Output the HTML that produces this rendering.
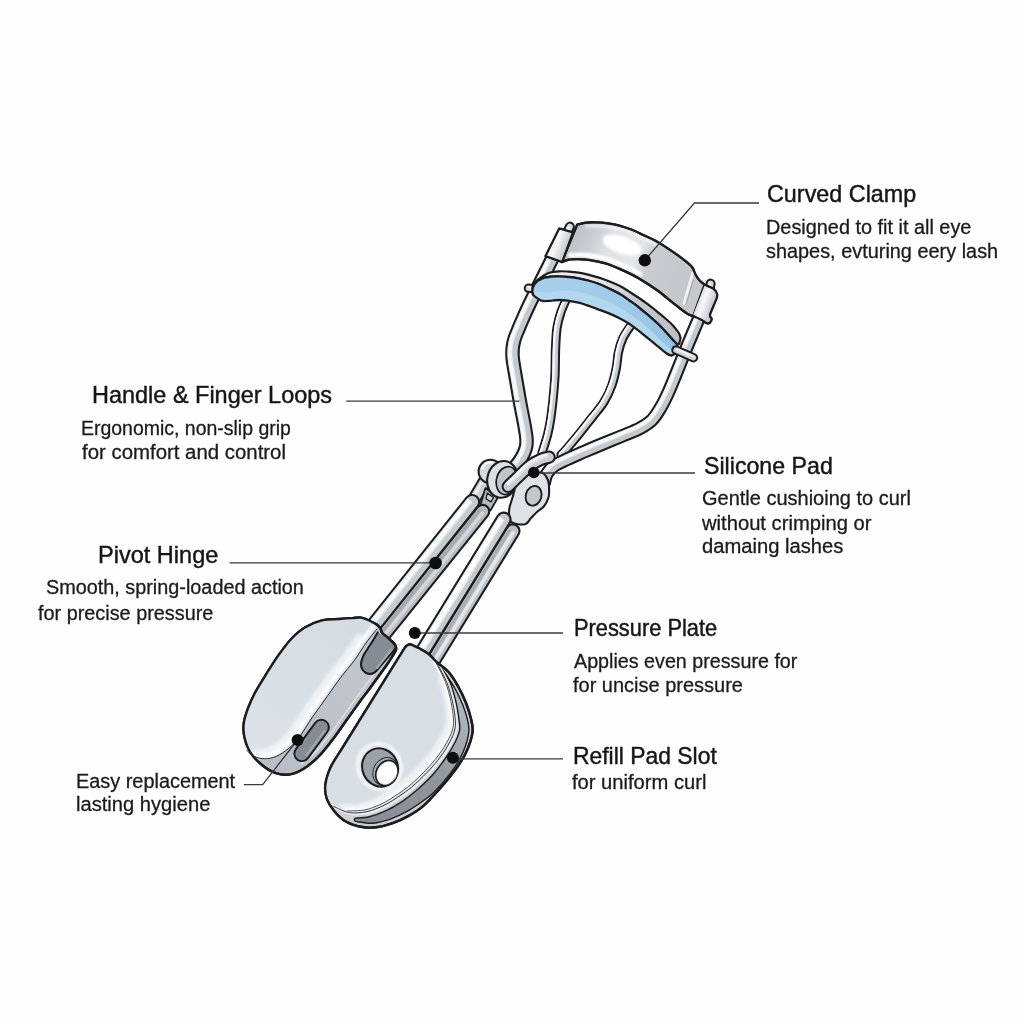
<!DOCTYPE html>
<html><head><meta charset="utf-8"><title>Eyelash Curler Diagram</title>
<style>
html,body{margin:0;padding:0;}
body{width:1024px;height:1024px;background:#fefefe;position:relative;overflow:hidden;font-family:"Liberation Sans",sans-serif;color:#1c1c1c;}
svg{position:absolute;left:0;top:0;}
span{position:absolute;white-space:nowrap;transform-origin:0 0;line-height:normal;}
.h{font-size:24.5px;-webkit-text-stroke:0.45px #161616;color:#161616;}
.b{font-size:20px;color:#1b1b1b;-webkit-text-stroke:0.3px #1b1b1b;}
</style></head><body>
<svg width="1024" height="1024" viewBox="0 0 1024 1024">
<defs>
<linearGradient id="gBand" gradientUnits="userSpaceOnUse" x1="575" y1="235" x2="700" y2="295">
 <stop offset="0" stop-color="#bcc2c9"/><stop offset="0.12" stop-color="#c9ced4"/><stop offset="0.24" stop-color="#dde0e4"/><stop offset="0.47" stop-color="#e4e7e9"/><stop offset="0.57" stop-color="#c9cdd2"/><stop offset="1" stop-color="#c1c5ca"/>
</linearGradient>
<linearGradient id="gFrame" gradientUnits="userSpaceOnUse" x1="535" y1="280" x2="680" y2="335">
 <stop offset="0" stop-color="#f0f2f3"/><stop offset="0.4" stop-color="#e4e7e9"/><stop offset="0.65" stop-color="#c6cbd0"/><stop offset="1" stop-color="#b9bfc5"/>
</linearGradient>
<linearGradient id="gPad" gradientUnits="userSpaceOnUse" x1="540" y1="285" x2="675" y2="350">
 <stop offset="0" stop-color="#a6cfea"/><stop offset="0.5" stop-color="#a0cbe8"/><stop offset="1" stop-color="#94c2e2"/>
</linearGradient>
<linearGradient id="gSlotR" gradientUnits="userSpaceOnUse" x1="365" y1="820" x2="462" y2="690">
 <stop offset="0" stop-color="#878d94"/><stop offset="0.45" stop-color="#8f959c"/><stop offset="0.75" stop-color="#a5abb2"/><stop offset="1" stop-color="#b4bac0"/>
</linearGradient>
<linearGradient id="gLPtop" gradientUnits="userSpaceOnUse" x1="370" y1="640" x2="260" y2="760">
 <stop offset="0" stop-color="#d4dce2"/><stop offset="1" stop-color="#dce2e7"/>
</linearGradient>
<linearGradient id="gLPside" gradientUnits="userSpaceOnUse" x1="380" y1="640" x2="280" y2="780">
 <stop offset="0" stop-color="#c2c8ce"/><stop offset="1" stop-color="#b8bec5"/>
</linearGradient>
<filter id="blur2" x="-20%" y="-20%" width="140%" height="140%"><feGaussianBlur stdDeviation="2"/></filter>
<filter id="blur1" x="-20%" y="-20%" width="140%" height="140%"><feGaussianBlur stdDeviation="1"/></filter>
<filter id="blur15" x="-20%" y="-20%" width="140%" height="140%"><feGaussianBlur stdDeviation="1.5"/></filter>
</defs>
<path d="M566.5,299C565.6,301.2 562.6,307.2 561,312C559.4,316.8 557.9,321.7 557,328C556.1,334.3 555.8,342.2 555.5,350C555.2,357.8 555.4,366.7 555,375C554.6,383.3 553.8,392.5 553,400C552.2,407.5 551.4,414.2 550.5,420C549.6,425.8 548.9,429.5 547.5,435C546.1,440.5 542.9,450 542,453" fill="none" stroke="#1d1d1f" stroke-width="9.3" stroke-linecap="round" stroke-linejoin="round"/>
<path d="M566.5,299C565.6,301.2 562.6,307.2 561,312C559.4,316.8 557.9,321.7 557,328C556.1,334.3 555.8,342.2 555.5,350C555.2,357.8 555.4,366.7 555,375C554.6,383.3 553.8,392.5 553,400C552.2,407.5 551.4,414.2 550.5,420C549.6,425.8 548.9,429.5 547.5,435C546.1,440.5 542.9,450 542,453" fill="none" stroke="#c6cbd0" stroke-width="5.3" stroke-linecap="round" stroke-linejoin="round"/>
<path d="M566.5,299C565.6,301.2 562.6,307.2 561,312C559.4,316.8 557.9,321.7 557,328C556.1,334.3 555.8,342.2 555.5,350C555.2,357.8 555.4,366.7 555,375C554.6,383.3 553.8,392.5 553,400C552.2,407.5 551.4,414.2 550.5,420C549.6,425.8 548.9,429.5 547.5,435C546.1,440.5 542.9,450 542,453" fill="none" stroke="#e8eaec" stroke-width="2.7" stroke-linecap="butt" stroke-linejoin="round" transform="translate(-1.5,-0.2)"/>
<path d="M566.5,299C565.6,301.2 562.6,307.2 561,312C559.4,316.8 557.9,321.7 557,328C556.1,334.3 555.8,342.2 555.5,350C555.2,357.8 555.4,366.7 555,375C554.6,383.3 553.8,392.5 553,400C552.2,407.5 551.4,414.2 550.5,420C549.6,425.8 548.9,429.5 547.5,435C546.1,440.5 542.9,450 542,453" fill="none" stroke="#f7f8f9" stroke-width="1.6" stroke-linecap="butt" stroke-linejoin="round" transform="translate(-1.8,-0.3)"/>
<path d="M630.5,326C629.2,328 625,333.7 623,338C621,342.3 619.6,347 618.5,352C617.4,357 617.4,362.5 616.3,368C615.2,373.5 614,379.3 612,385C610,390.7 607.2,396.7 604,402C600.8,407.3 596.6,411.8 592.5,417C588.4,422.2 583.8,428.2 579.5,433.5C575.2,438.8 570.1,444.9 567,448.5C563.9,452.1 562,453.9 561,455" fill="none" stroke="#1d1d1f" stroke-width="9.3" stroke-linecap="round" stroke-linejoin="round"/>
<path d="M630.5,326C629.2,328 625,333.7 623,338C621,342.3 619.6,347 618.5,352C617.4,357 617.4,362.5 616.3,368C615.2,373.5 614,379.3 612,385C610,390.7 607.2,396.7 604,402C600.8,407.3 596.6,411.8 592.5,417C588.4,422.2 583.8,428.2 579.5,433.5C575.2,438.8 570.1,444.9 567,448.5C563.9,452.1 562,453.9 561,455" fill="none" stroke="#c6cbd0" stroke-width="5.3" stroke-linecap="round" stroke-linejoin="round"/>
<path d="M630.5,326C629.2,328 625,333.7 623,338C621,342.3 619.6,347 618.5,352C617.4,357 617.4,362.5 616.3,368C615.2,373.5 614,379.3 612,385C610,390.7 607.2,396.7 604,402C600.8,407.3 596.6,411.8 592.5,417C588.4,422.2 583.8,428.2 579.5,433.5C575.2,438.8 570.1,444.9 567,448.5C563.9,452.1 562,453.9 561,455" fill="none" stroke="#e8eaec" stroke-width="2.7" stroke-linecap="butt" stroke-linejoin="round" transform="translate(-1.5,-0.8)"/>
<path d="M630.5,326C629.2,328 625,333.7 623,338C621,342.3 619.6,347 618.5,352C617.4,357 617.4,362.5 616.3,368C615.2,373.5 614,379.3 612,385C610,390.7 607.2,396.7 604,402C600.8,407.3 596.6,411.8 592.5,417C588.4,422.2 583.8,428.2 579.5,433.5C575.2,438.8 570.1,444.9 567,448.5C563.9,452.1 562,453.9 561,455" fill="none" stroke="#f7f8f9" stroke-width="1.6" stroke-linecap="butt" stroke-linejoin="round" transform="translate(-1.8,-0.9)"/>
<path d="M553,257C551.4,260.2 547.1,268.8 543.5,276C539.9,283.2 534.7,293.5 531.5,300C528.3,306.5 526.5,310.5 524.5,315C522.5,319.5 520.8,323.3 519.3,327C517.8,330.7 516.2,334.1 515.2,337C514.2,339.9 513.7,342 513.2,344.5C512.8,347 512.5,349.4 512.5,352C512.5,354.6 512.3,355.3 512.9,360C513.5,364.7 515,372.8 516.2,380C517.4,387.2 518.8,395.3 520.2,403C521.6,410.7 523.6,420.2 524.6,426C525.6,431.8 526.1,434.7 526.4,438C526.7,441.3 526.6,443.5 526.2,446C525.8,448.5 525.1,450.5 524,453C522.9,455.5 520.9,458.8 519.5,461C518.1,463.2 516.2,465.2 515.5,466" fill="none" stroke="#1d1d1f" stroke-width="14.5" stroke-linecap="round" stroke-linejoin="round"/>
<path d="M553,257C551.4,260.2 547.1,268.8 543.5,276C539.9,283.2 534.7,293.5 531.5,300C528.3,306.5 526.5,310.5 524.5,315C522.5,319.5 520.8,323.3 519.3,327C517.8,330.7 516.2,334.1 515.2,337C514.2,339.9 513.7,342 513.2,344.5C512.8,347 512.5,349.4 512.5,352C512.5,354.6 512.3,355.3 512.9,360C513.5,364.7 515,372.8 516.2,380C517.4,387.2 518.8,395.3 520.2,403C521.6,410.7 523.6,420.2 524.6,426C525.6,431.8 526.1,434.7 526.4,438C526.7,441.3 526.6,443.5 526.2,446C525.8,448.5 525.1,450.5 524,453C522.9,455.5 520.9,458.8 519.5,461C518.1,463.2 516.2,465.2 515.5,466" fill="none" stroke="#c4c9ce" stroke-width="10.3" stroke-linecap="round" stroke-linejoin="round"/>
<path d="M553,257C551.4,260.2 547.1,268.8 543.5,276C539.9,283.2 534.7,293.5 531.5,300C528.3,306.5 526.5,310.5 524.5,315C522.5,319.5 520.8,323.3 519.3,327C517.8,330.7 516.2,334.1 515.2,337C514.2,339.9 513.7,342 513.2,344.5C512.8,347 512.5,349.4 512.5,352C512.5,354.6 512.3,355.3 512.9,360C513.5,364.7 515,372.8 516.2,380C517.4,387.2 518.8,395.3 520.2,403C521.6,410.7 523.6,420.2 524.6,426C525.6,431.8 526.1,434.7 526.4,438C526.7,441.3 526.6,443.5 526.2,446C525.8,448.5 525.1,450.5 524,453C522.9,455.5 520.9,458.8 519.5,461C518.1,463.2 516.2,465.2 515.5,466" fill="none" stroke="#e8eaec" stroke-width="4.9" stroke-linecap="butt" stroke-linejoin="round" transform="translate(-2.5,-0.4)"/>
<path d="M553,257C551.4,260.2 547.1,268.8 543.5,276C539.9,283.2 534.7,293.5 531.5,300C528.3,306.5 526.5,310.5 524.5,315C522.5,319.5 520.8,323.3 519.3,327C517.8,330.7 516.2,334.1 515.2,337C514.2,339.9 513.7,342 513.2,344.5C512.8,347 512.5,349.4 512.5,352C512.5,354.6 512.3,355.3 512.9,360C513.5,364.7 515,372.8 516.2,380C517.4,387.2 518.8,395.3 520.2,403C521.6,410.7 523.6,420.2 524.6,426C525.6,431.8 526.1,434.7 526.4,438C526.7,441.3 526.6,443.5 526.2,446C525.8,448.5 525.1,450.5 524,453C522.9,455.5 520.9,458.8 519.5,461C518.1,463.2 516.2,465.2 515.5,466" fill="none" stroke="#f7f8f9" stroke-width="3.1" stroke-linecap="butt" stroke-linejoin="round" transform="translate(-2.8,-0.5)"/>
<path d="M699,318C697.7,321.2 693.5,331 691,337C688.5,343 686.5,347.8 684,354C681.5,360.2 678.6,367.7 676,374C673.4,380.3 671,386.5 668.5,392C666,397.5 663.8,402.3 661,407C658.2,411.7 655.5,416.4 652,420C648.5,423.6 645,425.6 640,428.3C635,431 628.7,433.2 622,436C615.3,438.8 606.3,442.4 600,445C593.7,447.6 589.5,449.4 584,451.8C578.5,454.2 572,456.9 567,459.3C562,461.7 557.3,463.6 554,466C550.7,468.4 548.7,470.7 547,473.5C545.3,476.3 544.5,481.4 544,483" fill="none" stroke="#1d1d1f" stroke-width="13.8" stroke-linecap="round" stroke-linejoin="round"/>
<path d="M699,318C697.7,321.2 693.5,331 691,337C688.5,343 686.5,347.8 684,354C681.5,360.2 678.6,367.7 676,374C673.4,380.3 671,386.5 668.5,392C666,397.5 663.8,402.3 661,407C658.2,411.7 655.5,416.4 652,420C648.5,423.6 645,425.6 640,428.3C635,431 628.7,433.2 622,436C615.3,438.8 606.3,442.4 600,445C593.7,447.6 589.5,449.4 584,451.8C578.5,454.2 572,456.9 567,459.3C562,461.7 557.3,463.6 554,466C550.7,468.4 548.7,470.7 547,473.5C545.3,476.3 544.5,481.4 544,483" fill="none" stroke="#c4c9ce" stroke-width="9.6" stroke-linecap="round" stroke-linejoin="round"/>
<path d="M699,318C697.7,321.2 693.5,331 691,337C688.5,343 686.5,347.8 684,354C681.5,360.2 678.6,367.7 676,374C673.4,380.3 671,386.5 668.5,392C666,397.5 663.8,402.3 661,407C658.2,411.7 655.5,416.4 652,420C648.5,423.6 645,425.6 640,428.3C635,431 628.7,433.2 622,436C615.3,438.8 606.3,442.4 600,445C593.7,447.6 589.5,449.4 584,451.8C578.5,454.2 572,456.9 567,459.3C562,461.7 557.3,463.6 554,466C550.7,468.4 548.7,470.7 547,473.5C545.3,476.3 544.5,481.4 544,483" fill="none" stroke="#e8eaec" stroke-width="4.6" stroke-linecap="butt" stroke-linejoin="round" transform="translate(-1.6,-1.9)"/>
<path d="M699,318C697.7,321.2 693.5,331 691,337C688.5,343 686.5,347.8 684,354C681.5,360.2 678.6,367.7 676,374C673.4,380.3 671,386.5 668.5,392C666,397.5 663.8,402.3 661,407C658.2,411.7 655.5,416.4 652,420C648.5,423.6 645,425.6 640,428.3C635,431 628.7,433.2 622,436C615.3,438.8 606.3,442.4 600,445C593.7,447.6 589.5,449.4 584,451.8C578.5,454.2 572,456.9 567,459.3C562,461.7 557.3,463.6 554,466C550.7,468.4 548.7,470.7 547,473.5C545.3,476.3 544.5,481.4 544,483" fill="none" stroke="#f7f8f9" stroke-width="2.9" stroke-linecap="butt" stroke-linejoin="round" transform="translate(-1.8,-2.1)"/>
<path d="M535,288.8L528.3,288.2" fill="none" stroke="#1d1d1f" stroke-width="9.2" stroke-linecap="round" stroke-linejoin="round"/>
<path d="M535,288.8L528.3,288.2" fill="none" stroke="#d9dde0" stroke-width="5.2" stroke-linecap="round" stroke-linejoin="round"/>
<path d="M535,288.8L528.3,288.2" fill="none" stroke="#f7f8f9" stroke-width="2.1" stroke-linecap="butt" stroke-linejoin="round" transform="translate(0,-0.9)"/>
<path d="M533.2,284.5C533.8,283.9 535,282.2 536.5,280.8C538,279.4 540.4,277.8 542.5,276.4C544.6,275 546.5,273.5 549.3,272.7C552,271.9 555.7,271.5 559,271.3C562.3,271.1 565.7,271.4 569,271.6C572.3,271.8 575.4,272.1 578.6,272.6C581.8,273.1 584.8,273.8 588,274.6C591.2,275.4 594.6,276.3 598.1,277.4C601.6,278.5 605.4,279.8 609,281.2C612.6,282.6 616.2,284.1 619.5,285.8C622.8,287.5 625.8,289.5 629,291.5C632.2,293.5 635.7,295.7 639,298C642.3,300.3 645.7,302.7 649,305.2C652.3,307.7 655.8,310.5 658.6,312.8C661.4,315.1 663.6,316.9 666,319C668.4,321.1 671,323.3 673.2,325.7C675.4,328.1 678.1,332 679.1,333.3L680.6,338 L679.2,344 L677,344.2L677,344.2L673.2,340.3L666,332.2L658.6,324.4L649,315.8L639,307.5L629,300.2L619.5,293.8L609,288.6L599,284L588,280.5L578.6,278.3L569,277L559,276.4L551,276.7L544.4,277.7L537.4,281L532.4,288Z" fill="url(#gFrame)" stroke="#1d1d1f" stroke-width="2.2" stroke-linejoin="round" stroke-linecap="round" />
<path d="M537.4,281C538.6,280.4 542.1,278.4 544.4,277.7C546.7,277 548.6,276.9 551,276.7C553.4,276.5 556,276.3 559,276.4C562,276.4 565.7,276.7 569,277C572.3,277.3 575.4,277.7 578.6,278.3C581.8,278.9 584.6,279.6 588,280.5C591.4,281.4 595.5,282.6 599,284C602.5,285.4 605.6,287 609,288.6C612.4,290.2 616.2,291.9 619.5,293.8C622.8,295.7 625.8,297.9 629,300.2C632.2,302.5 635.7,304.9 639,307.5C642.3,310.1 645.7,313 649,315.8C652.3,318.6 655.8,321.7 658.6,324.4C661.4,327.1 663.6,329.5 666,332.2C668.4,334.9 671.4,338.3 673.2,340.3C675,342.3 676.4,343.6 677,344.2L677.6,345 L675.2,353.8 L671.5,355.6C670.6,355.2 669.4,355.3 666.4,353.2C663.4,351.1 658.3,346.5 653.7,342.8C649.1,339.1 643.1,334.2 639,331C634.9,327.8 632.5,325.9 629.3,323.8C626,321.7 622.9,319.9 619.5,318.2C616.1,316.5 612.6,314.9 609,313.4C605.4,311.9 601.6,310.6 598.1,309.3C594.6,308 591.2,306.7 588,305.6C584.8,304.5 581.9,303.5 578.6,302.7C575.3,301.9 571.3,301.1 568,300.6C564.7,300.2 562,300 559,300C556,300 552.9,300.7 550,300.8C547.1,300.9 544.2,301.6 541.5,300.7C538.8,299.8 535.1,296.5 533.8,295.6C531.2,292.8 531.6,285.4 537.4,281Z" fill="url(#gPad)" stroke="#1d1d1f" stroke-width="2.3" stroke-linejoin="round" stroke-linecap="round" />
<path d="M535.5,291.5C537.6,291.6 543.6,292.4 548,292.3C552.4,292.2 556.9,290.7 562,290.6C567.1,290.6 572.6,290.9 578.6,292C584.6,293.1 591.9,295.3 598,297.5C604.1,299.7 609.3,302 615,305C620.7,308 626.5,311.7 632,315.5C637.5,319.3 643.2,323.8 648,328C652.8,332.2 656.9,336.7 661,340.5C665.1,344.3 670.6,349.2 672.5,351L671.6,353.8C670.6,353.6 669.4,353.7 666.4,351.6C663.4,349.5 658.3,344.9 653.7,341.2C649.1,337.5 643.1,332.6 639,329.4C634.9,326.2 632.5,324.3 629.3,322.2C626,320.1 622.9,318.3 619.5,316.6C616.1,314.9 612.6,313.3 609,311.8C605.4,310.3 601.6,309 598.1,307.7C594.6,306.4 591.2,305.1 588,304C584.8,302.9 581.9,301.9 578.6,301.1C575.3,300.3 571.3,299.4 568,299C564.7,298.6 562,298.4 559,298.4C556,298.4 552.9,299.1 550,299.2C547.1,299.3 544.2,300 541.5,299.1C538.8,298.2 535.1,294.9 533.8,294Z" fill="#b7d9f0" stroke="none" stroke-width="0" stroke-linejoin="round" stroke-linecap="round" opacity="0.8"/>
<path d="M676,350L693.5,357.7" fill="none" stroke="#1d1d1f" stroke-width="9.4" stroke-linecap="round" stroke-linejoin="round"/>
<path d="M676,350L693.5,357.7" fill="none" stroke="#d0d4d8" stroke-width="5.4" stroke-linecap="round" stroke-linejoin="round"/>
<path d="M676,350L693.5,357.7" fill="none" stroke="#f7f8f9" stroke-width="2.2" stroke-linecap="butt" stroke-linejoin="round" transform="translate(0.3,-1)"/>
<path d="M577.2,224.6C578.7,224.3 582.9,223 586,222.6C589.1,222.2 592.3,222.2 596,222.3C599.7,222.4 604.1,222.8 608,223.3C611.9,223.9 615.4,224.5 619.4,225.6C623.4,226.7 628.1,228.3 632,229.8C635.9,231.3 639,233 642.8,234.8C646.6,236.6 651.4,238.7 655,240.6C658.6,242.5 660.9,243.9 664.7,246.4C668.5,248.9 674.1,252.6 678,255.4C681.9,258.2 685.5,261.1 688,263.2C690.5,265.3 691.6,266.3 692.8,268.2C694,270.1 694.3,272.4 695.4,274.5C696.5,276.6 698,278.8 699.5,280.5C701,282.2 703.7,283.9 704.5,284.6L693.2,316.2C692.2,315.8 689.5,315.2 687,313.6C684.5,312.1 681.3,309.4 678.1,306.9C674.9,304.4 671.2,301.4 668,298.8C664.8,296.2 661.8,293.6 658.6,291.3C655.4,289 652.3,287 649,284.8C645.7,282.6 642.2,280.3 639,278.4C635.8,276.5 633.3,275.2 630,273.6C626.7,272 622.7,270.2 619,268.6C615.3,267 611.4,265.4 607.9,264.2C604.4,263 601.2,262.3 598,261.6C594.8,260.9 591.7,260.3 588.4,259.9C585.1,259.5 581.3,259.2 578,259.2C574.7,259.2 571.5,259.2 568.8,259.7C566.1,260.2 562.8,261.6 561.6,262Z" fill="url(#gBand)" stroke="#1d1d1f" stroke-width="2.3" stroke-linejoin="round" stroke-linecap="round" />
<path d="M570,255.3C571.5,255.2 575.9,254.8 579.2,254.8C582.5,254.8 586.3,255.1 589.6,255.5C592.9,255.9 596,256.5 599.2,257.2C602.5,257.9 605.6,258.6 609.1,259.8C612.6,261 616.5,262.6 620.2,264.2C623.9,265.8 627.9,267.6 631.2,269.2C634.5,270.8 638.7,273.2 640.2,274" fill="none" stroke="#ffffff" stroke-width="4.4" stroke-linecap="round" filter="url(#blur1)"/>
<path d="M586.5,226.2C588.2,226.1 592.8,225.8 596.5,225.9C600.2,226 604.6,226.4 608.5,226.9C612.4,227.4 615.9,228.1 619.9,229.2C623.9,230.3 628.6,231.9 632.5,233.4C636.4,234.9 639.5,236.6 643.3,238.4C647.1,240.2 653.5,243.2 655.5,244.2" fill="none" stroke="#f4f5f6" stroke-width="2.6" stroke-linecap="round" filter="url(#blur1)" opacity="0.9"/>
<ellipse cx="622" cy="245" rx="20" ry="8.6" transform="rotate(19 622 245)" fill="#ffffff" filter="url(#blur15)"/>
<ellipse cx="622" cy="245" rx="18" ry="7" transform="rotate(19 622 245)" fill="#ffffff" filter="url(#blur1)"/>
<path d="M694,269.5 C695,275 699,280.5 704.5,284.6 L693.2,316.2 L683.6,304.2Z" fill="#c4c9ce" stroke="none" stroke-width="0" stroke-linejoin="round" stroke-linecap="round" />
<path d="M692.6,273 L684,303.4" fill="none" stroke="#eef0f2" stroke-width="2.8" stroke-linecap="round"/>
<path d="M693.4,279.8 L686,304.6" fill="none" stroke="#a3a9af" stroke-width="1.1"/>
<path d="M702.2,290 L696.8,308.5" fill="none" stroke="#8f959b" stroke-width="1.1"/>
<path d="M577.2,224.6C578.7,224.3 582.9,223 586,222.6C589.1,222.2 592.3,222.2 596,222.3C599.7,222.4 604.1,222.8 608,223.3C611.9,223.9 615.4,224.5 619.4,225.6C623.4,226.7 628.1,228.3 632,229.8C635.9,231.3 639,233 642.8,234.8C646.6,236.6 651.4,238.7 655,240.6C658.6,242.5 660.9,243.9 664.7,246.4C668.5,248.9 674.1,252.6 678,255.4C681.9,258.2 685.5,261.1 688,263.2C690.5,265.3 691.6,266.3 692.8,268.2C694,270.1 694.3,272.4 695.4,274.5C696.5,276.6 698,278.8 699.5,280.5C701,282.2 703.7,283.9 704.5,284.6L693.2,316.2C692.2,315.8 689.5,315.2 687,313.6C684.5,312.1 681.3,309.4 678.1,306.9C674.9,304.4 671.2,301.4 668,298.8C664.8,296.2 661.8,293.6 658.6,291.3C655.4,289 652.3,287 649,284.8C645.7,282.6 642.2,280.3 639,278.4C635.8,276.5 633.3,275.2 630,273.6C626.7,272 622.7,270.2 619,268.6C615.3,267 611.4,265.4 607.9,264.2C604.4,263 601.2,262.3 598,261.6C594.8,260.9 591.7,260.3 588.4,259.9C585.1,259.5 581.3,259.2 578,259.2C574.7,259.2 571.5,259.2 568.8,259.7C566.1,260.2 562.8,261.6 561.6,262Z" fill="none" stroke="#1d1d1f" stroke-width="2.3" stroke-linejoin="round" stroke-linecap="round" />
<path d="M567.8,231L569.9,226.6" fill="none" stroke="#1d1d1f" stroke-width="10" stroke-linecap="round" stroke-linejoin="round"/>
<path d="M567.8,231L569.9,226.6" fill="none" stroke="#d9dde0" stroke-width="6" stroke-linecap="round" stroke-linejoin="round"/>
<path d="M567.8,231L569.9,226.6" fill="none" stroke="#f7f8f9" stroke-width="2.4" stroke-linecap="butt" stroke-linejoin="round" transform="translate(-0.9,0)"/>
<path d="M709.7,289L710.6,283.6" fill="none" stroke="#1d1d1f" stroke-width="10" stroke-linecap="round" stroke-linejoin="round"/>
<path d="M709.7,289L710.6,283.6" fill="none" stroke="#d9dde0" stroke-width="6" stroke-linecap="round" stroke-linejoin="round"/>
<path d="M709.7,289L710.6,283.6" fill="none" stroke="#f7f8f9" stroke-width="2.4" stroke-linecap="butt" stroke-linejoin="round" transform="translate(-0.9,0)"/>
<linearGradient id="gS1" gradientUnits="userSpaceOnUse" x1="548" y1="240" x2="568" y2="248"><stop offset="0" stop-color="#e4e7e9"/><stop offset="0.4" stop-color="#f7f8f9"/><stop offset="1" stop-color="#bfc4ca"/></linearGradient>
<path d="M559.2,228.4L573,232.4L562.2,262.2L545.4,256.2Z" fill="url(#gS1)" stroke="#1d1d1f" stroke-width="2.3" stroke-linejoin="round" stroke-linecap="round" />
<linearGradient id="gS2" gradientUnits="userSpaceOnUse" x1="698" y1="298" x2="715" y2="304"><stop offset="0" stop-color="#d4d8dc"/><stop offset="0.35" stop-color="#f8f9fa"/><stop offset="1" stop-color="#bec3c9"/></linearGradient>
<path d="M704.9,284.8L713.9,289L717.2,294L716.6,298.5L710,314.8L711.8,318.8L710.2,322.5L706.9,323.4L701.4,319.7L692.8,315.8Z" fill="url(#gS2)" stroke="none" stroke-width="0" stroke-linejoin="round" stroke-linecap="round" />
<path d="M704.9,284.8C705.9,285.3 712.5,287.9 713.9,289C715.3,290.1 716.9,292.9 717.2,294C717.5,295.1 717.4,296.1 716.6,298.5C715.8,300.9 710.6,312.4 710,314.8C709.4,317.2 711.8,317.9 711.8,318.8C711.8,319.6 710.8,322 710.2,322.5C709.6,323 707.9,323.7 706.9,323.4C705.9,323.1 703,320.6 701.4,319.7C699.8,318.8 693.8,316.3 692.8,315.8" fill="none" stroke="#1d1d1f" stroke-width="2.3" stroke-linejoin="round" stroke-linecap="round" />
<path d="M489,474L474.5,498.5" fill="none" stroke="#1d1d1f" stroke-width="13.5" stroke-linecap="butt" stroke-linejoin="round"/>
<path d="M489,474L474.5,498.5" fill="none" stroke="#cbd0d4" stroke-width="9.5" stroke-linecap="butt" stroke-linejoin="round"/>
<path d="M489,474L474.5,498.5" fill="none" stroke="#e9ebed" stroke-width="3.3" stroke-linecap="butt" stroke-linejoin="round" transform="translate(-1.4,-0.9)"/>
<path d="M485.4,488.1L497.9,497.5L490.4,510.6L480.4,505Z" fill="#b4b9bf" stroke="#1d1d1f" stroke-width="1.8" stroke-linejoin="round" stroke-linecap="round" />
<path d="M487.2,493.1L493.5,497.5L491,501.9L486,498.8Z" fill="#cfd3d7" stroke="#1d1d1f" stroke-width="1.3" stroke-linejoin="round" stroke-linecap="round" />
<path d="M482.6,511.5L377.7,642" fill="none" stroke="#1d1d1f" stroke-width="15.4" stroke-linecap="round" stroke-linejoin="round"/>
<path d="M482.6,511.5L377.7,642" fill="none" stroke="#b6bbc1" stroke-width="11.2" stroke-linecap="round" stroke-linejoin="round"/>
<path d="M482.6,511.5L377.7,642" fill="none" stroke="#a4a9b0" stroke-width="3.4" stroke-linecap="butt" stroke-linejoin="round" transform="translate(-2.6,-2)"/>
<path d="M482.6,511.5L377.7,642" fill="none" stroke="#d3d7da" stroke-width="3.4" stroke-linecap="butt" stroke-linejoin="round" transform="translate(0.8,0.6)"/>
<path d="M472.1,502L371.6,628" fill="none" stroke="#1d1d1f" stroke-width="16.2" stroke-linecap="round" stroke-linejoin="round"/>
<path d="M472.1,502L371.6,628" fill="none" stroke="#c6cbd0" stroke-width="12" stroke-linecap="round" stroke-linejoin="round"/>
<path d="M472.1,502L371.6,628" fill="none" stroke="#e4e7e9" stroke-width="6.6" stroke-linecap="butt" stroke-linejoin="round" transform="translate(-2,-1.6)"/>
<path d="M472.1,502L371.6,628" fill="none" stroke="#fafbfb" stroke-width="3.6" stroke-linecap="butt" stroke-linejoin="round" transform="translate(-2.3,-1.8)"/>
<circle cx="490.4" cy="471.5" r="11.8" fill="#d5d9dd" stroke="#1d1d1f" stroke-width="2.1"/>
<path d="M482.5,468 A9,9 0 0 1 492,462.5" fill="none" stroke="#f6f7f8" stroke-width="2.8" stroke-linecap="round"/>
<ellipse cx="502.5" cy="479.4" rx="15.2" ry="18.5" transform="rotate(12 502.5 479.4)" fill="#dcdfe3" stroke="#1d1d1f" stroke-width="2.1"/>
<ellipse cx="506.8" cy="480.6" rx="10.4" ry="14.2" transform="rotate(12 506.8 480.6)" fill="#bfc4c9" stroke="#1d1d1f" stroke-width="1.7"/>
<path d="M516.8,483.1C518.2,479.9 518.6,479.6 521,478.1C523.4,476.6 527.5,474.9 531,474C534.5,473.1 539.4,471.8 542.2,472.8C545.1,473.8 546.7,477.3 547.9,480C549,482.7 549,485.8 549.1,488.8C549.2,491.7 549.4,494.5 548.5,497.5C547.6,500.5 545.7,504.1 543.8,506.5C541.8,508.9 539.1,510.1 537,512C534.9,513.9 533,516 531,518C529,520 528.3,523.6 525,524.2C521.7,524.9 513.6,524.2 511,521.9C508.4,519.5 508.9,514.1 509.1,510C509.4,505.9 511.2,502 512.5,497.5C513.8,493 515.3,486.4 516.8,483.1Z" fill="#dee1e5" stroke="#1d1d1f" stroke-width="2.1" stroke-linejoin="round" stroke-linecap="round" />
<path d="M508.2,486.5C510,484.8 514.9,479.9 518.5,476.5C522.1,473.1 526,468.9 529.8,466C533.5,463.1 537.8,460.8 541,459.4C544.2,457.9 547.8,457.6 549.1,457.2" fill="none" stroke="#1d1d1f" stroke-width="13.2" stroke-linecap="round" stroke-linejoin="round"/>
<path d="M508.2,486.5C510,484.8 514.9,479.9 518.5,476.5C522.1,473.1 526,468.9 529.8,466C533.5,463.1 537.8,460.8 541,459.4C544.2,457.9 547.8,457.6 549.1,457.2" fill="none" stroke="#c9cdd2" stroke-width="9.2" stroke-linecap="round" stroke-linejoin="round"/>
<path d="M508.2,486.5C510,484.8 514.9,479.9 518.5,476.5C522.1,473.1 526,468.9 529.8,466C533.5,463.1 537.8,460.8 541,459.4C544.2,457.9 547.8,457.6 549.1,457.2" fill="none" stroke="#dfe2e5" stroke-width="4.6" stroke-linecap="butt" stroke-linejoin="round" transform="translate(-1,-1.6)"/>
<path d="M508.2,486.5C510,484.8 514.9,479.9 518.5,476.5C522.1,473.1 526,468.9 529.8,466C533.5,463.1 537.8,460.8 541,459.4C544.2,457.9 547.8,457.6 549.1,457.2" fill="none" stroke="#f4f5f6" stroke-width="2" stroke-linecap="butt" stroke-linejoin="round" transform="translate(-1.6,-2.6)"/>
<ellipse cx="533.6" cy="495.8" rx="7.8" ry="10" transform="rotate(16 533.6 495.8)" fill="#c3c8cd" stroke="#1d1d1f" stroke-width="1.9"/>
<path d="M512.8,531L426.3,672" fill="none" stroke="#1d1d1f" stroke-width="15.4" stroke-linecap="round" stroke-linejoin="round"/>
<path d="M512.8,531L426.3,672" fill="none" stroke="#bcc1c7" stroke-width="11.2" stroke-linecap="round" stroke-linejoin="round"/>
<path d="M512.8,531L426.3,672" fill="none" stroke="#a9aeb5" stroke-width="3.4" stroke-linecap="butt" stroke-linejoin="round" transform="translate(-2.8,-1.7)"/>
<path d="M512.8,531L426.3,672" fill="none" stroke="#e3e6e8" stroke-width="3.8" stroke-linecap="butt" stroke-linejoin="round" transform="translate(0.9,0.5)"/>
<path d="M503.7,519.5L415,664" fill="none" stroke="#1d1d1f" stroke-width="15.8" stroke-linecap="round" stroke-linejoin="round"/>
<path d="M503.7,519.5L415,664" fill="none" stroke="#c5cacf" stroke-width="11.6" stroke-linecap="round" stroke-linejoin="round"/>
<path d="M503.7,519.5L415,664" fill="none" stroke="#e8eaec" stroke-width="7" stroke-linecap="butt" stroke-linejoin="round" transform="translate(-1.9,-1.1)"/>
<path d="M503.7,519.5L415,664" fill="none" stroke="#fcfcfc" stroke-width="4.2" stroke-linecap="butt" stroke-linejoin="round" transform="translate(-2.2,-1.3)"/>
<path d="M361,617.6C358.6,617.4 355.8,617.9 352.2,618.1C348.6,618.3 344.4,618.6 339.5,619C334.6,619.4 328.6,618.8 322.9,620.2C317.2,621.6 310.6,624.2 305.3,627.3C300,630.4 295.7,634.3 291.2,639C286.8,643.7 282.7,649.4 278.4,655.4C274.1,661.4 269.4,669 265.5,675.3C261.6,681.6 257.8,687.5 254.9,693C252,698.5 249.8,703.5 247.9,708.5C246.1,713.5 244.4,718.1 243.8,722.8C243.2,727.5 243.3,732 244.4,736.9C245.5,741.8 247.3,747.4 250.2,752.1C253.1,756.8 257.7,761.5 262,765C266.3,768.5 271.3,771.6 276,773.2C280.7,774.8 285.4,775.2 290.1,774.4C294.8,773.6 299.2,771.6 304.1,768.5C309,765.4 314.3,760.9 319.4,755.6C324.5,750.3 330,742.9 334.6,736.9C339.2,730.9 342.6,725.6 347,719.5C351.4,713.4 357.4,705 361,700C364.6,695 365.9,693.8 368.8,689.8C371.7,685.8 375.3,680.8 378.6,676.2C381.9,671.7 385.6,666.6 388.4,662.5C391.2,658.4 393.9,654.2 395.2,651.8C396.5,649.3 396.4,649.2 396.2,647.9C396,646.6 395.5,645.6 394.2,644C392.9,642.4 390.3,639.9 388.4,638.1C386.4,636.3 383.7,634.5 382.5,633.2C381.3,631.9 381.7,631.5 381.2,630.5C380.7,629.5 380.5,628.1 379.4,626.9C378.3,625.7 376.8,624.6 374.7,623.4C372.6,622.2 369.2,620.5 366.9,619.5C364.6,618.5 363.4,617.8 361,617.6Z" fill="url(#gLPside)" stroke="#1d1d1f" stroke-width="2.4" stroke-linejoin="round" stroke-linecap="round" />
<path d="M374.7,623.4C373,621.8 369.2,620.5 366.9,619.5C364.6,618.5 363.4,617.8 361,617.6C358.6,617.4 355.8,617.9 352.2,618.1C348.6,618.3 344.4,618.6 339.5,619C334.6,619.4 328.6,618.8 322.9,620.2C317.2,621.6 310.6,624.2 305.3,627.3C300,630.4 295.7,634.3 291.2,639C286.8,643.7 282.7,649.4 278.4,655.4C274.1,661.4 269.4,669 265.5,675.3C261.6,681.6 257.8,687.5 254.9,693C252,698.5 249.8,703.5 247.9,708.5C246.1,713.5 244.4,718.1 243.8,722.8C243.2,727.5 244.1,733.3 244.4,736.9C244.7,740.5 245.4,742.2 245.8,744.5C246.2,746.8 245.9,748.6 247,750.5C248.1,752.4 250.1,754.2 252.6,755.6C255.1,757 258.5,758.3 262,758.6C265.5,758.9 269.8,758.7 273.7,757.4C277.6,756.1 281.4,753.9 285.4,750.9C289.4,747.9 293.1,745.1 297.6,739.5C302.1,733.9 307.5,724.2 312.5,717C317.5,709.8 322.7,702.8 327.4,696.2C332.1,689.7 335.9,683.8 340.5,677.7C345.1,671.6 350.8,665.3 355,659.5C359.2,653.7 362.3,648.1 366,643C369.7,637.9 375.6,632.3 377,629C378.4,625.7 376.4,625 374.7,623.4Z" fill="url(#gLPtop)" stroke="none" stroke-width="0" stroke-linejoin="round" stroke-linecap="round" />
<path d="M359,638C357.2,640.8 352.2,648.7 348,654.5C343.8,660.3 338.1,666.6 333.5,672.7C328.9,678.8 325.1,684.7 320.4,691.2C315.7,697.8 310.5,704.8 305.5,712C300.5,719.2 295.1,728.9 290.6,734.5C286.1,740.1 282.4,742.9 278.4,745.9C274.4,748.9 270.6,751.1 266.7,752.4C262.8,753.7 256.9,753.4 255,753.6" fill="none" stroke="#eef1f4" stroke-width="8" stroke-linecap="round" filter="url(#blur15)"/>
<path d="M373.4,626.4C371.6,628.7 366.1,635.3 362.4,640.4C358.7,645.5 355.6,651.1 351.4,656.9C347.1,662.7 341.5,669 336.9,675.1C332.3,681.2 328.5,687.1 323.8,693.6C319.1,700.1 313.9,707.2 308.9,714.4C303.9,721.6 298.5,731.2 294,736.9C289.5,742.5 285.8,745.3 281.8,748.3C277.8,751.3 274,753.5 270.1,754.8C266.2,756.1 261.9,756.3 258.4,756C254.9,755.7 250.6,753.5 249,753" fill="none" stroke="#fdfdfe" stroke-width="4.2" stroke-linecap="round" filter="url(#blur1)"/>
<path d="M377,629C375.2,631.3 369.7,637.9 366,643C362.3,648.1 359.2,653.7 355,659.5C350.8,665.3 345.1,671.6 340.5,677.7C335.9,683.8 332.1,689.7 327.4,696.2C322.7,702.8 317.5,709.8 312.5,717C307.5,724.2 302.1,733.9 297.6,739.5C293.1,745.1 289.4,747.9 285.4,750.9C281.4,753.9 277.6,756.1 273.7,757.4C269.8,758.7 265.5,758.9 262,758.6C258.5,758.3 255.1,757 252.6,755.6C250.1,754.2 247.9,751.4 247,750.5" fill="none" stroke="#26282b" stroke-width="1" stroke-linecap="round"/>
<path d="M389.9,651.2C388.8,652.8 386.1,656.8 383.4,660.7C380.7,664.6 376.9,669.9 373.6,674.4C370.3,679 366.7,684 363.8,688C360.9,692 359.6,693.2 356,698.2C352.4,703.2 346.4,711.6 342,717.7C337.6,723.9 334.1,729.3 329.6,735.1C325.1,740.9 319.7,747.9 314.9,752.7C310.1,757.6 303.2,762.3 300.9,764.2" fill="none" stroke="#dde1e5" stroke-width="1.6"/>
<path d="M377.8,632.4C376.9,633.8 374.4,638.2 372.7,641C371,643.8 369.1,646.4 367.5,649C365.9,651.6 364.1,654 363,656.6C361.9,659.2 361,662.2 361,664.5C361,666.8 361.7,668.7 363,670.3C364.3,671.9 366.9,673.6 368.8,673.9C370.8,674.2 372.4,674 374.7,672.3C377,670.6 379.9,666.4 382.5,663.5C385.1,660.6 388.2,657.1 390.3,654.7C392.4,652.3 394.1,650.5 395,649C395.9,647.5 396.1,647.1 395.8,646C395.6,644.9 394.7,643.8 393.5,642.5C392.3,641.2 389.2,638.8 388.4,638.1" fill="#868c93" stroke="#1d1d1f" stroke-width="2.1" stroke-linejoin="round" stroke-linecap="round" />
<path d="M391.5,649.5L377,668" fill="none" stroke="#a3a9af" stroke-width="2.2" stroke-linecap="round"/>
<path d="M321.3,727.3L301.9,753.6" fill="none" stroke="#1d1d1f" stroke-width="17" stroke-linecap="round"/>
<path d="M321.3,727.3L301.9,753.6" fill="none" stroke="#868c93" stroke-width="13.2" stroke-linecap="round"/>
<path d="M324.3,731.2L306.6,755" fill="none" stroke="#a0a6ac" stroke-width="2.4" stroke-linecap="round"/>
<path d="M361,617.6C358.6,617.4 355.8,617.9 352.2,618.1C348.6,618.3 344.4,618.6 339.5,619C334.6,619.4 328.6,618.8 322.9,620.2C317.2,621.6 310.6,624.2 305.3,627.3C300,630.4 295.7,634.3 291.2,639C286.8,643.7 282.7,649.4 278.4,655.4C274.1,661.4 269.4,669 265.5,675.3C261.6,681.6 257.8,687.5 254.9,693C252,698.5 249.8,703.5 247.9,708.5C246.1,713.5 244.4,718.1 243.8,722.8C243.2,727.5 243.3,732 244.4,736.9C245.5,741.8 247.3,747.4 250.2,752.1C253.1,756.8 257.7,761.5 262,765C266.3,768.5 271.3,771.6 276,773.2C280.7,774.8 285.4,775.2 290.1,774.4C294.8,773.6 299.2,771.6 304.1,768.5C309,765.4 314.3,760.9 319.4,755.6C324.5,750.3 330,742.9 334.6,736.9C339.2,730.9 342.6,725.6 347,719.5C351.4,713.4 357.4,705 361,700C364.6,695 365.9,693.8 368.8,689.8C371.7,685.8 375.3,680.8 378.6,676.2C381.9,671.7 385.6,666.6 388.4,662.5C391.2,658.4 393.9,654.2 395.2,651.8C396.5,649.3 396.4,649.2 396.2,647.9C396,646.6 395.5,645.6 394.2,644C392.9,642.4 390.3,639.9 388.4,638.1C386.4,636.3 383.7,634.5 382.5,633.2C381.3,631.9 381.7,631.5 381.2,630.5C380.7,629.5 380.5,628.1 379.4,626.9C378.3,625.7 376.8,624.6 374.7,623.4C372.6,622.2 369.2,620.5 366.9,619.5C364.6,618.5 363.4,617.8 361,617.6Z" fill="none" stroke="#1d1d1f" stroke-width="2.4" stroke-linejoin="round" stroke-linecap="round" />
<path d="M410.3,644.2C411.8,644.9 415.9,646.6 419,648.3C422.1,650 425.7,651.8 428.8,654.2C431.9,656.7 434.3,660.1 437.6,663C440.9,665.9 445,667.9 448.4,671.8C451.8,675.7 455.2,681.2 458.1,686.4C461,691.6 463.9,697.7 466,703C468.1,708.3 469.7,713.5 470.8,718C471.9,722.5 472.8,726 472.7,730C472.6,734 471.6,737.5 470.3,741.7C469,745.9 467.4,750.2 464.8,755C462.2,759.8 458.9,764.9 454.7,770.6C450.5,776.3 444.9,783.1 439.6,789C434.3,794.9 428.2,801.8 423.1,806.2C418,810.7 414.2,812.8 409.1,815.6C404,818.4 398.2,821.2 392.7,823.2C387.2,825.2 381.5,826.7 376.2,827.3C371,827.9 366.1,827.8 361,826.8C355.9,825.8 350.3,824.1 345.8,821.5C341.3,818.9 337.2,814.6 334.1,810.9C331,807.2 328.5,803.5 327,799.2C325.5,794.9 324.7,790.5 325.3,785.2C325.9,779.9 327.9,773.5 330.5,767.6C333.1,761.7 339.3,752.9 341.1,750L404.4,648.3 Q406.5,644.6 410.3,644.2Z" fill="#cbd0d6" stroke="#1d1d1f" stroke-width="2.4" stroke-linejoin="round" stroke-linecap="round" />
<path d="M446,674.5C447.5,676.8 452.2,683.5 455,688.5C457.8,693.5 460.6,699.5 462.6,704.5C464.6,709.5 466.1,714.2 467.2,718.5C468.2,722.8 469.1,725.6 468.9,730C468.7,734.4 467.4,740 465.8,745C464.2,750 462,754.9 459.4,759.7C456.8,764.5 454,768.5 450,773.8C446,779 439.3,786.7 435.2,790.9C431.1,795.1 430.1,795.9 425.5,799.2C420.9,802.5 413.8,807.6 407.9,810.9C402,814.2 396.2,817 390.3,819.1C384.4,821.2 378.3,822.8 372.7,823.2C367.1,823.6 359.3,821.9 356.6,821.6C354,821.4 353.6,819 355.6,818.2C357.9,818 364.2,818 369.2,816.8C374.2,815.6 380.1,813.4 385.6,810.9C391.1,808.4 396.9,805 402,801.6C407.1,798.2 410.9,795.2 416,790.8C421.1,786.4 427.5,780.5 432.5,775C437.5,769.5 442.2,763 446,757.5C449.8,752 452.9,746.6 455.2,742C457.5,737.4 459,733.7 459.6,730C460.2,726.3 459.6,724.5 459,720C458.4,715.5 457.7,709.2 456.2,703C454.7,696.8 452.9,689.2 450.2,683C447.5,676.8 441.5,668.4 439.8,665.5Z" fill="url(#gSlotR)" stroke="#1d1d1f" stroke-width="1.4" stroke-linejoin="round" stroke-linecap="round" />
<path d="M410.3,644.2C411.8,644.9 415.9,646.6 419,648.3C422.1,650 425.7,651.6 428.8,654.2C431.9,656.8 434.5,659.1 437.6,664C440.7,668.9 444.9,677.3 447.4,683.8C449.9,690.3 451.5,697 452.8,703C454.1,709 455,715.5 455.3,720C455.6,724.5 455.6,726.4 454.7,730C453.8,733.6 452.4,737.3 450,741.7C447.6,746.1 444.4,751.5 440.6,756.6C436.8,761.7 432.1,767.1 427.3,772.2C422.5,777.3 416.2,783.1 411.7,787C407.1,790.9 404.5,792.6 400,795.6C395.5,798.6 390,802.4 384.5,805.1C379,807.8 372.8,810.4 366.9,811.6C361,812.9 354.8,813.4 349.3,812.6C343.8,811.8 337.7,808.8 334,806.6C330.3,804.4 328.4,802.8 327,799.2C325.6,795.6 324.7,790.5 325.3,785.2C325.9,779.9 327.9,773.5 330.5,767.6C333.1,761.7 339.3,752.9 341.1,750L404.4,648.3 Q406.5,644.6 410.3,644.2Z" fill="#d7dee4" stroke="none" stroke-width="0" stroke-linejoin="round" stroke-linecap="round" />
<path d="M441.4,678.8C442.3,682 445.5,692 446.8,698C448.1,704 449,710.5 449.3,715C449.6,719.5 449.6,721.4 448.7,725C447.8,728.6 446.4,732.3 444,736.7C441.6,741.1 438.4,746.5 434.6,751.6C430.8,756.7 426.1,762.1 421.3,767.2C416.5,772.3 410.2,778.1 405.7,782C401.1,785.9 398.5,787.6 394,790.6C389.5,793.6 384,797.4 378.5,800.1C373,802.8 366.8,805.4 360.9,806.6C355,807.9 346.2,807.4 343.3,807.6" fill="none" stroke="#eef1f4" stroke-width="7" stroke-linecap="round" filter="url(#blur15)"/>
<path d="M434.6,661.4C436.2,664.7 441.9,674.7 444.4,681.2C446.9,687.7 448.5,694.4 449.8,700.4C451.1,706.4 452,712.9 452.3,717.4C452.6,721.9 452.6,723.8 451.7,727.4C450.8,731 449.4,734.7 447,739.1C444.6,743.5 441.4,748.9 437.6,754C433.8,759.1 429.1,764.5 424.3,769.6C419.5,774.7 413.2,780.5 408.7,784.4C404.1,788.3 401.5,790 397,793C392.5,796 387,799.8 381.5,802.5C376,805.2 369.8,807.8 363.9,809C358,810.2 349.2,809.8 346.3,810" fill="none" stroke="#fcfdfd" stroke-width="3.6" stroke-linecap="round" filter="url(#blur1)"/>
<path d="M439,665.2C440.6,668.5 446.3,678.5 448.8,685C451.3,691.5 452.9,698.2 454.2,704.2C455.5,710.2 456.4,716.7 456.7,721.2C457,725.7 457,727.6 456.1,731.2C455.2,734.8 453.8,738.5 451.4,742.9C449,747.3 445.8,752.7 442,757.8C438.2,762.9 433.5,768.3 428.7,773.4C423.9,778.5 417.6,784.3 413.1,788.2C408.5,792.1 405.9,793.8 401.4,796.8C396.9,799.8 391.4,803.6 385.9,806.3C380.4,809 374.2,811.6 368.3,812.8C362.4,814.1 356.2,814.6 350.7,813.8C345.2,813 337.9,808.8 335.4,807.8" fill="none" stroke="#e9ecef" stroke-width="2.4" stroke-linecap="round"/>
<path d="M437.6,664C439.2,667.3 444.9,677.3 447.4,683.8C449.9,690.3 451.5,697 452.8,703C454.1,709 455,715.5 455.3,720C455.6,724.5 455.6,726.4 454.7,730C453.8,733.6 452.4,737.3 450,741.7C447.6,746.1 444.4,751.5 440.6,756.6C436.8,761.7 432.1,767.1 427.3,772.2C422.5,777.3 416.2,783.1 411.7,787C407.1,790.9 404.5,792.6 400,795.6C395.5,798.6 390,802.4 384.5,805.1C379,807.8 372.8,810.4 366.9,811.6C361,812.9 354.8,813.4 349.3,812.6C343.8,811.8 336.6,807.6 334,806.6" fill="none" stroke="#2a2c2f" stroke-width="0.9" stroke-linecap="round"/>
<path d="M435.7,662.3C437.3,665.6 443,675.6 445.5,682.1C448,688.6 449.6,695.3 450.9,701.3C452.2,707.3 453.1,713.8 453.4,718.3C453.7,722.8 453.7,724.7 452.8,728.3C451.9,731.9 450.5,735.6 448.1,740C445.8,744.4 442.5,749.8 438.7,754.9C434.9,760 430.2,765.4 425.4,770.5C420.6,775.6 414.4,781.4 409.8,785.3C405.2,789.2 402.6,790.9 398.1,793.9C393.6,796.9 388.1,800.7 382.6,803.4C377.1,806.1 370.9,808.6 365,809.9C359.1,811.1 350.3,810.7 347.4,810.9" fill="none" stroke="#2a2c2f" stroke-width="0.8" stroke-linecap="round"/>
<path d="M410.3,644.2C411.8,644.9 415.9,646.6 419,648.3C422.1,650 425.7,651.8 428.8,654.2C431.9,656.7 434.3,660.1 437.6,663C440.9,665.9 445,667.9 448.4,671.8C451.8,675.7 455.2,681.2 458.1,686.4C461,691.6 463.9,697.7 466,703C468.1,708.3 469.7,713.5 470.8,718C471.9,722.5 472.8,726 472.7,730C472.6,734 471.6,737.5 470.3,741.7C469,745.9 467.4,750.2 464.8,755C462.2,759.8 458.9,764.9 454.7,770.6C450.5,776.3 444.9,783.1 439.6,789C434.3,794.9 428.2,801.8 423.1,806.2C418,810.7 414.2,812.8 409.1,815.6C404,818.4 398.2,821.2 392.7,823.2C387.2,825.2 381.5,826.7 376.2,827.3C371,827.9 366.1,827.8 361,826.8C355.9,825.8 350.3,824.1 345.8,821.5C341.3,818.9 337.2,814.6 334.1,810.9C331,807.2 328.5,803.5 327,799.2C325.5,794.9 324.7,790.5 325.3,785.2C325.9,779.9 327.9,773.5 330.5,767.6C333.1,761.7 339.3,752.9 341.1,750L404.4,648.3 Q406.5,644.6 410.3,644.2Z" fill="none" stroke="#1d1d1f" stroke-width="2.4" stroke-linejoin="round" stroke-linecap="round" />
<ellipse cx="379.4" cy="766.6" rx="21.4" ry="23" transform="rotate(-25 379.4 766.6)" fill="none" stroke="#f6f8f9" stroke-width="3.6" filter="url(#blur1)"/>
<ellipse cx="380.1" cy="767.5" rx="17.7" ry="19.4" transform="rotate(-25 380.1 767.5)" fill="#9ca2a9" stroke="#1d1d1f" stroke-width="2"/>
<clipPath id="cpH"><ellipse cx="380.1" cy="767.5" rx="17.7" ry="19.4" transform="rotate(-25 380.1 767.5)"/></clipPath>
<g clip-path="url(#cpH)"><ellipse cx="385.4" cy="771.4" rx="12" ry="14.4" transform="rotate(28 385.4 771.4)" fill="#aab0b6" stroke="#2a2c2f" stroke-width="1"/><ellipse cx="386.9" cy="773" rx="10.6" ry="13" transform="rotate(28 386.9 773)" fill="#fefefe" stroke="#1d1d1f" stroke-width="1.7"/></g>
<path d="M759,203L694.5,203L645,260" fill="none" stroke="#3a3a3a" stroke-width="1.3"/>
<path d="M346.2,401.2L519.5,401.2" fill="none" stroke="#3a3a3a" stroke-width="1.3"/>
<path d="M229.5,562.9L435.5,562.9" fill="none" stroke="#3a3a3a" stroke-width="1.3"/>
<path d="M695,473L534,473" fill="none" stroke="#3a3a3a" stroke-width="1.3"/>
<path d="M563,633L415,633" fill="none" stroke="#3a3a3a" stroke-width="1.3"/>
<path d="M563,758.8L453,758.8" fill="none" stroke="#3a3a3a" stroke-width="1.3"/>
<path d="M243.8,784.6L262.7,784.6L297.5,740" fill="none" stroke="#3a3a3a" stroke-width="1.3"/>
<circle cx="644.8" cy="260.3" r="6.2" fill="#0d0d0d"/>
<circle cx="435.6" cy="563" r="6.3" fill="#0d0d0d"/>
<circle cx="533.8" cy="472.5" r="5.8" fill="#0d0d0d"/>
<circle cx="414.8" cy="633" r="6" fill="#0d0d0d"/>
<circle cx="452.9" cy="757.7" r="6" fill="#0d0d0d"/>
<circle cx="297.6" cy="740" r="6" fill="#0d0d0d"/>
</svg>
<span class="h" style="left:767.3px;top:180.4px;transform:scaleX(0.9534)">Curved Clamp</span>
<span class="b" style="left:765.6px;top:215.8px;transform:scaleX(0.9932)">Designed to fit it all eye</span>
<span class="b" style="left:765.6px;top:240.1px;transform:scaleX(0.9943)">shapes, evturing eery lash</span>
<span class="h" style="left:92px;top:380.9px;transform:scaleX(0.9579)">Handle &amp; Finger Loops</span>
<span class="b" style="left:81.1px;top:416.6px;transform:scaleX(0.9730)">Ergonomic, non-slip grip</span>
<span class="b" style="left:81.6px;top:440.8px;transform:scaleX(1.0193)">for comfort and control</span>
<span class="h" style="left:97.8px;top:540.9px;transform:scaleX(0.9603)">Pivot Hinge</span>
<span class="b" style="left:45.6px;top:576.3px;transform:scaleX(0.9912)">Smooth, spring-loaded action</span>
<span class="b" style="left:38.1px;top:601.6px;transform:scaleX(0.9923)">for precise pressure</span>
<span class="h" style="left:704.3px;top:451.9px;transform:scaleX(0.9455)">Silicone Pad</span>
<span class="b" style="left:701.6px;top:487.1px;transform:scaleX(0.9994)">Gentle cushioing to curl</span>
<span class="b" style="left:701.6px;top:511.6px;transform:scaleX(1.0094)">without crimping or</span>
<span class="b" style="left:701.6px;top:535.1px;transform:scaleX(1.0095)">damaing lashes</span>
<span class="h" style="font-size:23.2px;left:573.9px;top:614.6px;transform:scaleX(0.9411)">Pressure Plate</span>
<span class="b" style="left:573.6px;top:649.6px;transform:scaleX(0.9849)">Applies even pressure for</span>
<span class="b" style="left:573.1px;top:673.8px;transform:scaleX(0.9989)">for uncise pressure</span>
<span class="h" style="left:573.3px;top:741.7px;transform:scaleX(0.9341)">Refill Pad Slot</span>
<span class="b" style="left:571.6px;top:771.1px;transform:scaleX(1.0078)">for uniform curl</span>
<span class="b" style="left:75.6px;top:769.6px;transform:scaleX(0.9941)">Easy replacement</span>
<span class="b" style="left:76.1px;top:792.6px;transform:scaleX(1.0073)">lasting hygiene</span>
</body></html>
